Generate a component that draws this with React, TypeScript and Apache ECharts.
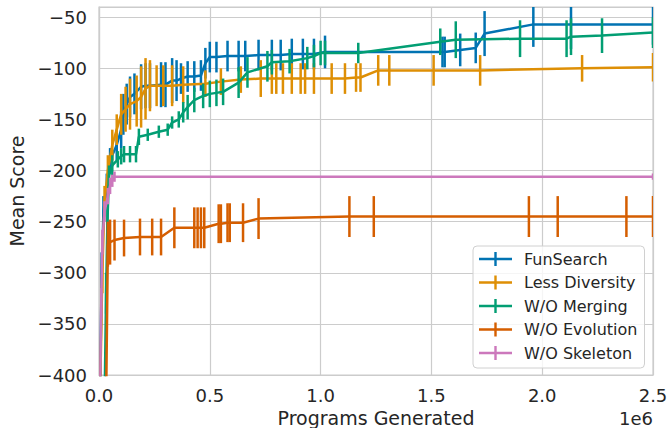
import React, { useEffect, useRef } from "react";
import * as echarts from "echarts";

// [programs generated, mean score, error]
const funSearch: number[][] = [
  [0.005e6, -420, 20], [0.012e6, -300, 20], [0.02e6, -240, 15], [0.035e6, -215, 12],
  [0.05e6, -190, 12], [0.08e6, -175, 15], [0.1e6, -160, 18], [0.11e6, -145, 20],
  [0.125e6, -135, 20], [0.14e6, -128, 20], [0.16e6, -125, 20], [0.19e6, -118, 22],
  [0.21e6, -117, 22], [0.23e6, -117, 22], [0.28e6, -116, 22], [0.3e6, -116, 22],
  [0.33e6, -112, 22], [0.35e6, -112, 20], [0.37e6, -110, 15], [0.4e6, -108, 15],
  [0.43e6, -108, 15], [0.46e6, -107, 15], [0.48e6, -95, 15], [0.5e6, -89, 15],
  [0.53e6, -89, 15], [0.58e6, -88, 15], [0.63e6, -88, 15], [0.66e6, -88, 15],
  [0.72e6, -87, 15], [0.78e6, -87, 15], [0.82e6, -87, 15], [0.87e6, -86, 15],
  [0.92e6, -86, 15], [0.97e6, -86, 15], [1.02e6, -84, 16], [1.55e6, -84, 15],
  [1.56e6, -84, 15], [1.63e6, -82, 16], [1.7e6, -80, 15], [1.74e6, -66, 22],
  [1.96e6, -57, 22], [2.13e6, -57, 24], [2.5e6, -57, 20],
];

const lessDiversity: number[][] = [
  [0.005e6, -420, 20], [0.015e6, -300, 20], [0.025e6, -230, 15], [0.04e6, -200, 15],
  [0.06e6, -175, 15], [0.08e6, -160, 15], [0.1e6, -145, 20], [0.12e6, -140, 22],
  [0.14e6, -135, 25], [0.17e6, -132, 25], [0.19e6, -128, 30], [0.21e6, -120, 30],
  [0.23e6, -117, 25], [0.26e6, -117, 20], [0.29e6, -117, 20], [0.33e6, -117, 20],
  [0.38e6, -116, 18], [0.48e6, -115, 13], [0.55e6, -113, 13], [0.64e6, -111, 13],
  [0.73e6, -110, 18], [0.78e6, -110, 15], [0.8e6, -110, 15], [0.83e6, -110, 15],
  [0.87e6, -110, 15], [0.91e6, -110, 15], [0.93e6, -110, 15], [0.97e6, -110, 15],
  [1.05e6, -110, 15], [1.11e6, -110, 15], [1.16e6, -109, 14], [1.18e6, -109, 14],
  [1.26e6, -102, 15], [1.31e6, -102, 15], [1.51e6, -102, 15], [1.72e6, -102, 15],
  [2.18e6, -100, 13], [2.5e6, -99, 14],
];

const woMerging: number[][] = [
  [0.025e6, -430, 20], [0.032e6, -320, 20], [0.038e6, -250, 15], [0.045e6, -205, 10],
  [0.06e6, -195, 10], [0.085e6, -189, 8], [0.1e6, -186, 8], [0.113e6, -184, 8],
  [0.14e6, -184, 8], [0.167e6, -184, 8], [0.18e6, -167, 8], [0.22e6, -165, 6],
  [0.27e6, -162, 6], [0.31e6, -160, 6], [0.33e6, -153, 6], [0.36e6, -150, 8],
  [0.38e6, -143, 10], [0.4e6, -138, 12], [0.43e6, -131, 12], [0.47e6, -127, 12],
  [0.5e6, -125, 13], [0.53e6, -124, 13], [0.56e6, -123, 13], [0.63e6, -114, 15],
  [0.67e6, -104, 15], [0.76e6, -98, 15], [0.78e6, -94, 12], [0.86e6, -93, 12],
  [0.94e6, -90, 11], [0.97e6, -88, 11], [1.0e6, -85, 12], [1.02e6, -85, 12],
  [1.17e6, -85, 10], [1.54e6, -74, 13], [1.61e6, -72, 18], [1.9e6, -71, 18],
  [2.11e6, -71, 18], [2.13e6, -69, 18], [2.27e6, -68, 17], [2.5e6, -65, 15],
];

const woEvolution: number[][] = [
  [0.032e6, -430, 20], [0.04e6, -272, 22], [0.05e6, -270, 22], [0.07e6, -268, 20],
  [0.113e6, -266, 18], [0.185e6, -265, 18], [0.24e6, -265, 18], [0.28e6, -265, 18],
  [0.34e6, -256, 20], [0.43e6, -256, 20], [0.445e6, -256, 20], [0.46e6, -256, 20],
  [0.475e6, -256, 20], [0.54e6, -252, 19], [0.55e6, -252, 19], [0.58e6, -251, 19],
  [0.59e6, -251, 19], [0.65e6, -251, 19], [0.72e6, -247, 20], [1.13e6, -245, 20],
  [1.24e6, -245, 20], [1.94e6, -245, 20], [2.07e6, -245, 20], [2.38e6, -245, 20],
  [2.5e6, -245, 20],
];

const woSkeleton: number[][] = [
  [0.005e6, -420, 15], [0.01e6, -330, 15], [0.015e6, -270, 12], [0.025e6, -240, 10],
  [0.04e6, -225, 8], [0.05e6, -215, 8], [0.06e6, -210, 6], [0.07e6, -206, 5],
  [2.5e6, -206, 3],
];

const seriesNames = ["FunSearch", "Less Diversity", "W/O Merging", "W/O Evolution", "W/O Skeleton"];
const seriesData = [funSearch, lessDiversity, woMerging, woEvolution, woSkeleton];
const colors = ["#0173b2", "#de8f05", "#029e73", "#d55e00", "#cc78bc"];

const FONT = "DejaVu Sans";
const TEXT = "#262626";
const GRID = "#cccccc";
const crossIcon = "path://M0,5.8h33v2.4h-33z M15.3,0h2.4v14h-2.4z";

export default function App() {
  const ref = useRef<HTMLDivElement>(null);
  useEffect(() => {
    if (!ref.current) return;
    const chart = echarts.init(ref.current, undefined, { renderer: "svg" });
    const series: any[] = [];
    seriesNames.forEach((name, i) => {
      const color = colors[i];
      series.push({
        name,
        type: "line",
        data: seriesData[i].map((d) => [d[0], d[1]]),
        showSymbol: false,
        symbol: "none",
        color,
        lineStyle: { width: 2.5, color },
        itemStyle: { color },
        clip: true,
        z: 2 + i * 2,
      });
      series.push({
        name,
        type: "custom",
        data: seriesData[i],
        encode: { x: 0, y: 1 },
        clip: true,
        z: 3 + i * 2,
        renderItem: (params: any, api: any) => {
          const x = api.value(0);
          const y = api.value(1);
          const e = api.value(2);
          const p1 = api.coord([x, y - e]);
          const p2 = api.coord([x, y + e]);
          return {
            type: "line",
            shape: { x1: p1[0], y1: p1[1], x2: p2[0], y2: p2[1] },
            style: { stroke: color, lineWidth: 2.5 },
          };
        },
      });
    });

    chart.setOption({
      animation: false,
      backgroundColor: "#ffffff",
      textStyle: { fontFamily: FONT },
      grid: {
        left: 99,
        right: 15,
        top: 7,
        bottom: 53,
        show: true,
        borderColor: GRID,
        borderWidth: 1.2,
        backgroundColor: "#ffffff",
        outerBoundsMode: "none",
        containLabel: false,
      },
      xAxis: {
        type: "value",
        min: 0,
        max: 2500000,
        interval: 500000,
        name: "Programs Generated",
        nameLocation: "middle",
        nameGap: 32,
        nameTextStyle: { fontSize: 19, color: TEXT, fontFamily: FONT },
        axisLine: { show: true, lineStyle: { color: GRID, width: 1.2 } },
        axisTick: { show: false },
        splitLine: { show: true, lineStyle: { color: GRID, width: 1.2 } },
        axisLabel: {
          fontSize: 18,
          color: TEXT,
          fontFamily: FONT,
          margin: 11,
          formatter: (v: number) => (v / 1e6).toFixed(1),
        },
      },
      yAxis: {
        type: "value",
        min: -400,
        max: -40,
        interval: 50,
        name: "Mean Score",
        nameLocation: "middle",
        nameGap: 71,
        nameTextStyle: { fontSize: 19, color: TEXT, fontFamily: FONT },
        axisLine: { show: true, lineStyle: { color: GRID, width: 1.2 } },
        axisTick: { show: false },
        splitLine: { show: true, lineStyle: { color: GRID, width: 1.2 } },
        axisLabel: {
          fontSize: 18,
          color: TEXT,
          fontFamily: FONT,
          margin: 12,
          showMaxLabel: false,
          formatter: (v: number) => (v < 0 ? "\u2212" + Math.abs(v) : String(v)),
        },
      },
      legend: {
        orient: "vertical",
        left: 473,
        top: 246,
        padding: [5, 7, 7, 6],
        itemWidth: 33,
        itemHeight: 14,
        itemGap: 7.5,
        backgroundColor: "rgba(255,255,255,0.8)",
        borderColor: "#d0d0d0",
        borderWidth: 1,
        borderRadius: 4,
        itemStyle: { borderWidth: 0 },
        textStyle: { fontSize: 16, color: TEXT, fontFamily: FONT, lineHeight: 16, padding: [0, 0, 0, 7] },
        data: seriesNames.map((n) => ({ name: n, icon: crossIcon })),
      },
      graphic: [
        {
          type: "text",
          right: 15,
          top: 409,
          style: { text: "1e6", font: `18px ${FONT}`, fill: TEXT },
        },
      ],
      series,
    });
    return () => chart.dispose();
  }, []);
  return (
    <div
      ref={ref}
      style={{ position: "fixed", left: 0, top: 0, width: 668, height: 428 }}
    />
  );
}
